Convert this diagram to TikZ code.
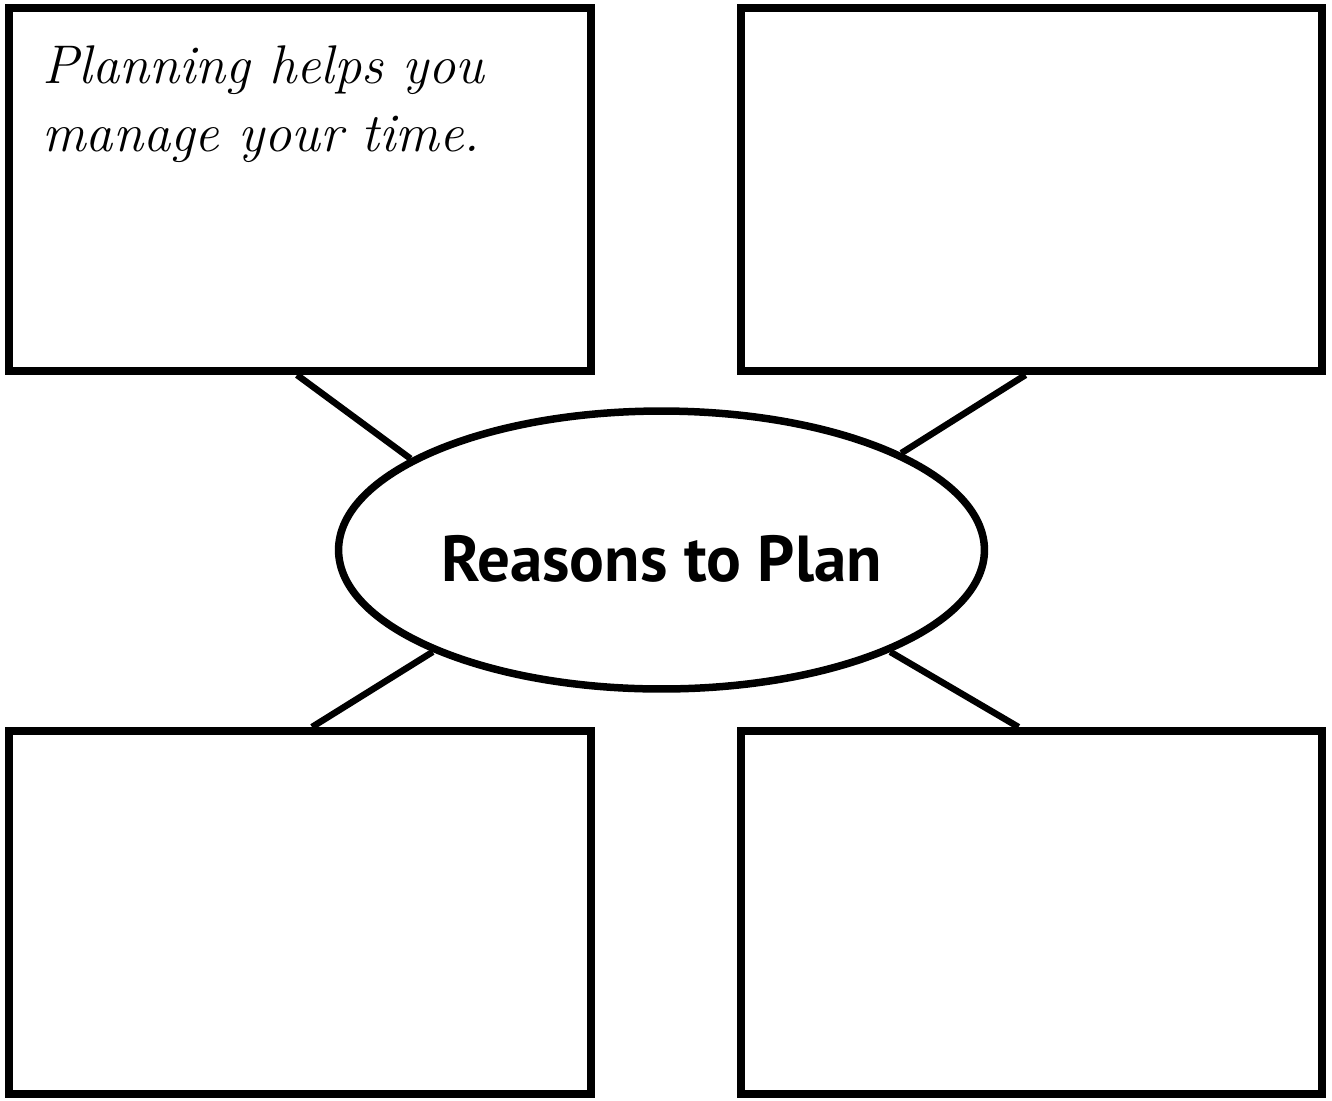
\documentclass[tikz,border=0pt]{standalone}
\usepackage{fontspec}
\setsansfont{PT Sans}
\usepackage{tikz}
\usetikzlibrary{shapes.geometric}

\begin{document}
\begin{tikzpicture}[x=0.02cm,y=-0.02cm,
  box/.style={draw,line width=0.16cm,minimum width=11.64cm,minimum height=7.26cm,inner sep=0pt},
  oval/.style={ellipse,draw,line width=0.15cm,minimum width=12.92cm,minimum height=5.56cm,inner sep=0pt,
    text height=1.26cm,text depth=0cm,font=\sffamily\bfseries\fontsize{37}{44}\selectfont},
  hand/.style={align=left,inner sep=0pt,font=\itshape\fontsize{31}{39}\selectfont},
  link/.style={line width=0.13cm}]
  \useasboundingbox (0,0) rectangle (1332,1100);
  \node[box] (tl) at (300,189.5) {};
  \node[box] (tr) at (1031.5,189.5) {};
  \node[box] (bl) at (300,912.5) {};
  \node[box] (br) at (1031.5,912.5) {};
  \node[oval] (reasons) at (661.5,550) {Reasons to Plan};
  \node[hand,anchor=north west] (note) at (42,45) {Planning helps you\\manage your time.};

  \draw[link] ([xshift=-0.06cm]tl.south) -- (reasons.160);
  \draw[link] ([xshift=-0.12cm]tr.south) -- (reasons.22);
  \draw[link] ([xshift=0.24cm]bl.north) -- (reasons.204);
  \draw[link] ([xshift=-0.26cm]br.north) -- (reasons.336);
\end{tikzpicture}
\end{document}
